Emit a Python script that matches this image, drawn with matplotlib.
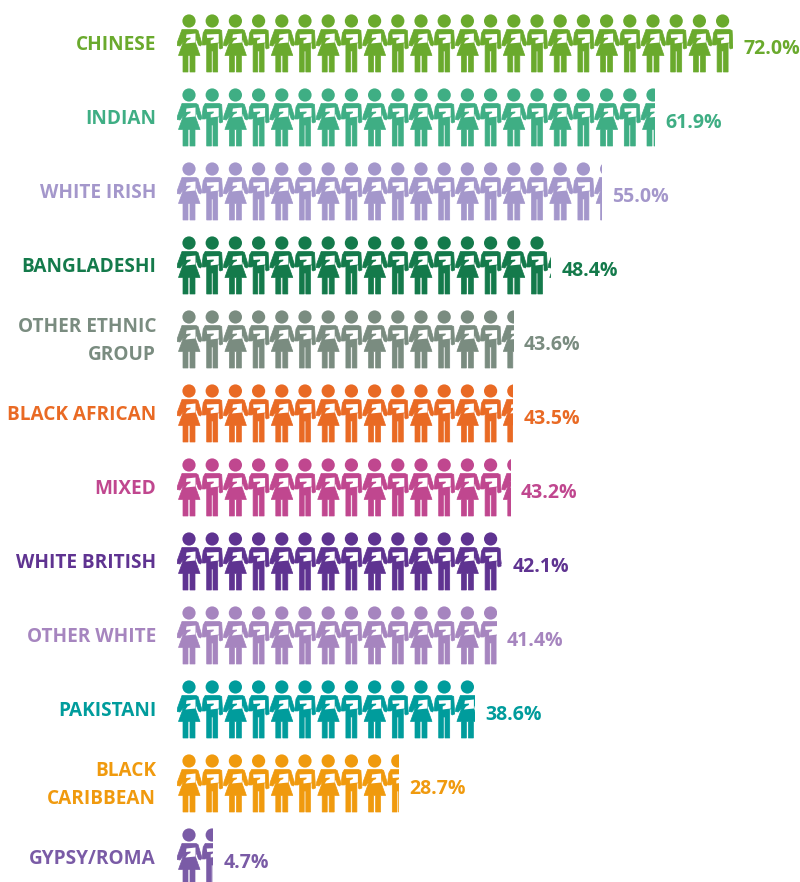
import matplotlib
matplotlib.use("Agg")
import matplotlib.pyplot as plt
from matplotlib.patches import Circle, Polygon, Rectangle
from matplotlib.transforms import Affine2D

plt.rcParams["font.family"] = ["Open Sans", "DejaVu Sans"]

groups = ["CHINESE", "INDIAN", "WHITE IRISH", "BANGLADESHI", "OTHER ETHNIC\nGROUP",
          "BLACK AFRICAN", "MIXED", "WHITE BRITISH", "OTHER WHITE", "PAKISTANI",
          "BLACK\nCARIBBEAN", "GYPSY/ROMA"]
values = [72.0, 61.9, 55.0, 48.4, 43.6, 43.5, 43.2, 42.1, 41.4, 38.6, 28.7, 4.7]
colors = ["#6aaa2d", "#3fae84", "#a497cb", "#147a4b", "#7a8c80", "#e96a24",
          "#c0478f", "#5f3391", "#a685bf", "#009c9c", "#f09a0e", "#7a5ba6"]

PX_PER_PCT = 7.72
ROW_PX = 74.0
LEFT_PX = 177.0
TOP_PX = 21.0
PITCH = 23.2

# icon outlines in pixels, relative to centre of the head
woman = [(-7, 8.5), (7, 8.5), (9, 9.5), (13, 23), (11.5, 25), (9.5, 24), (7, 17),
         (6.5, 22), (11, 34.5), (6, 34.5), (6, 51), (1, 51), (1, 34.5), (-1, 34.5),
         (-1, 51), (-6, 51), (-6, 34.5), (-10.5, 34.5), (-6, 22), (-4.5, 19), (-9, 25),
         (-12, 24.5), (-11.5, 21)]
man = [(-7, 8.5), (7, 8.5), (9.5, 9.5), (10.5, 27), (8, 28), (7, 27), (7, 22),
       (5.5, 22), (5.5, 51), (0.8, 51), (0.8, 30), (-0.8, 30), (-0.8, 51), (-5.5, 51),
       (-5.5, 23), (-7, 24), (-10, 24), (-10, 21), (-9, 12)]
woman_paper = [(-2.5, 13.5), (6.5, 12.5), (6.5, 21.5), (-3.5, 22.5), (-1.5, 19.5),
               (1.5, 18), (1.5, 16.5), (-3, 17)]
man_paper = [(-5.5, 13.5), (6.5, 13), (6.5, 21.5), (-1.5, 22.5), (-1.5, 19.5),
             (1.5, 18), (1.5, 16.5), (-5, 17)]

fig = plt.figure(figsize=(8.00, 8.82), dpi=100)
ax = fig.add_axes([0, 0, 1, 1])
ax.set_xlim(-LEFT_PX / PX_PER_PCT, (800 - LEFT_PX) / PX_PER_PCT)
ax.set_ylim((882 - TOP_PX) / ROW_PX, -TOP_PX / ROW_PX)
ax.axis("off")

for row, (name, val, col) in enumerate(zip(groups, values, colors)):
    clip = Rectangle((0, row - 0.2), val, 0.9, transform=ax.transData)
    n = int(val * PX_PER_PCT / PITCH) + 1
    for i in range(n):
        tr = Affine2D().scale(1 / PX_PER_PCT, 1 / ROW_PX).translate(
            (12 + i * PITCH) / PX_PER_PCT, row) + ax.transData
        body = woman if i % 2 == 0 else man
        paper = woman_paper if i % 2 == 0 else man_paper
        parts = [Circle((0, 0), 6.6, fc=col, ec="none"),
                 Polygon(body, closed=True, fc=col, ec=col, lw=0.5),
                 Polygon(paper, closed=True, fc="white", ec="none")]
        for p in parts:
            p.set_transform(tr)
            ax.add_artist(p)
            p.set_clip_path(clip)
    ax.text(-21 / PX_PER_PCT, row + 24 / ROW_PX, name, color=col, ha="right", va="center",
            fontsize=13.7, fontweight="bold", linespacing=1.5, multialignment="right")
    ax.text(val + 10.5 / PX_PER_PCT, row + 28 / ROW_PX, "%.1f%%" % val, color=col,
            ha="left", va="center", fontsize=14, fontweight="bold")

fig.savefig("out.png", dpi=100)
